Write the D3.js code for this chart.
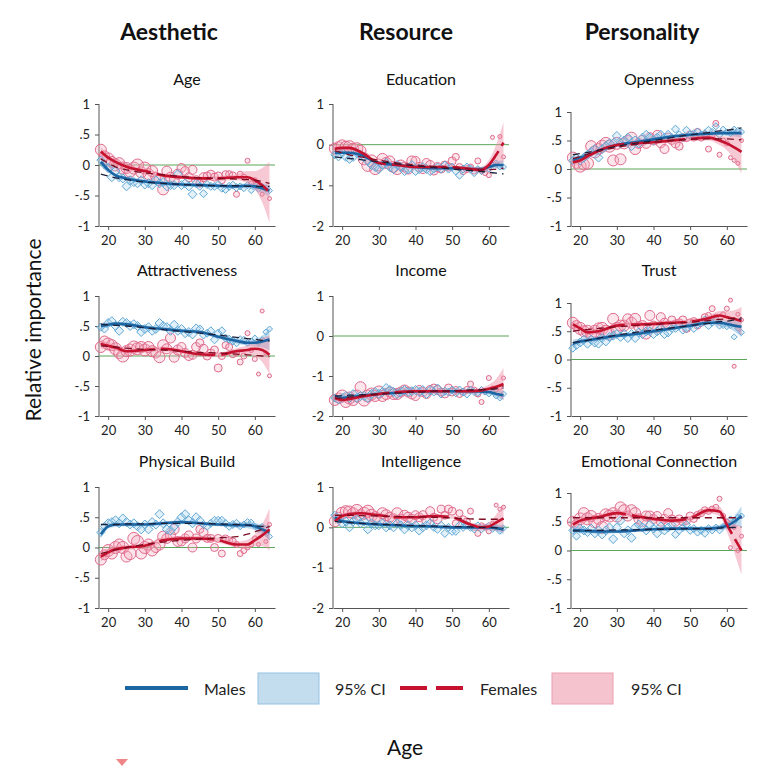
<!DOCTYPE html>
<html><head><meta charset="utf-8">
<script src="https://cdn.jsdelivr.net/npm/d3@7"></script>
<style>body{margin:0;background:#fff}svg{font-family:Lato,"Open Sans",sans-serif}</style>
</head><body><svg id="c" width="768" height="768"></svg>
<script>
// ---------- shared axes data ----------
const ages = d3.range(18, 65); // 18..64
const fitAges = [18,20,22,25,30,35,40,45,50,55,58,60,62,64];
const xTicks = [20,30,40,50,60];
const yTicksA = [-1,-0.5,0,0.5,1];
const yTickLabelsA = ["-1","-.5","0",".5","1"];
const yTicksB = [-2,-1,0,1];
const yTickLabelsB = ["-2","-1","0","1"];
const columnTitles = ["Aesthetic","Resource","Personality"];
const panelTitles = ["Age","Education","Openness","Attractiveness","Income","Trust","Physical Build","Intelligence","Emotional Connection"];
const femaleRadius = [5.5,5,6,5.5,6,5.5,6,5.5,6,6,6,5.5,6,5.5,5.5,5,5.5,5.5,5,5,5,5,4.5,4.5,4.5,4.5,4.5,4,4.5,4,4,4,4,3.5,3.5,3.5,3.5,3,3,3,2.5,2.5,2.5,2,2,2,2];
const maleRadius = [4,4,4.5,4.5,4.5,4.5,4.5,4.5,4.5,4.5,4.5,4.5,4.5,4.5,4.5,4.5,4.5,4.5,4.5,4.5,4.5,4.5,4.5,4.5,4.5,4.5,4.5,4,4,4,4,4,4,4,4,4,4,4,3.5,3.5,3.5,3,3,3,3,3,3];

// ---------- Age (Aesthetic) ----------
const ageM = [0.08,0,-0.05,-0.2,-0.1,-0.2,-0.22,-0.35,-0.25,-0.28,-0.3,-0.25,-0.32,-0.3,-0.33,-0.25,-0.3,-0.28,-0.35,-0.33,-0.33,-0.15,-0.33,-0.3,-0.35,-0.48,-0.3,-0.35,-0.47,-0.32,-0.35,-0.35,-0.32,-0.38,-0.4,-0.35,-0.33,-0.37,-0.35,-0.38,-0.33,-0.42,-0.35,-0.4,-0.35,-0.38,-0.42];
const ageF = [0.25,0.15,0.1,0.05,0,0.03,-0.05,-0.05,-0.1,-0.05,0,-0.12,-0.05,-0.15,-0.1,-0.2,-0.25,-0.4,-0.1,-0.2,-0.25,-0.15,-0.05,-0.1,-0.2,-0.08,-0.25,-0.3,-0.2,-0.18,-0.15,-0.2,-0.18,-0.25,-0.15,-0.15,-0.17,-0.48,-0.15,-0.2,0.07,-0.3,-0.25,-0.35,-0.48,-0.4,-0.55];
const ageMFit = [0.05,-0.08,-0.17,-0.22,-0.27,-0.3,-0.32,-0.33,-0.34,-0.35,-0.34,-0.35,-0.38,-0.42];
const ageMCI = [0.06,0.04,0.03,0.03,0.03,0.03,0.03,0.03,0.03,0.03,0.04,0.05,0.07,0.1];
const ageFFit = [0.22,0.12,0.05,-0.03,-0.1,-0.17,-0.2,-0.22,-0.22,-0.2,-0.2,-0.25,-0.33,-0.45];
const ageFCI = [0.08,0.05,0.04,0.04,0.03,0.03,0.03,0.03,0.04,0.05,0.1,0.15,0.28,0.5];
const ageMPar = [-0.15,-0.18,-0.21,-0.24,-0.28,-0.3,-0.32,-0.33,-0.34,-0.34,-0.35,-0.35,-0.35,-0.35];
const ageFPar = [0.1,0.03,-0.03,-0.08,-0.13,-0.16,-0.19,-0.21,-0.22,-0.23,-0.24,-0.25,-0.27,-0.3];

// ---------- Education (Resource) ----------
const eduM = [-0.25,-0.3,-0.2,-0.3,-0.35,-0.3,-0.2,-0.25,-0.3,-0.4,-0.5,-0.55,-0.6,-0.5,-0.45,-0.55,-0.6,-0.5,-0.55,-0.65,-0.6,-0.5,-0.65,-0.6,-0.55,-0.6,-0.65,-0.6,-0.55,-0.6,-0.5,-0.6,-0.55,-0.65,-0.75,-0.6,-0.55,-0.6,-0.7,-0.6,-0.65,-0.6,-0.6,-0.5,-0.45,-0.55,-0.55];
const eduF = [-0.1,-0.05,-0.03,-0.05,-0.05,-0.1,-0.1,-0.15,-0.35,-0.51,-0.4,-0.6,-0.5,-0.35,-0.45,-0.4,-0.55,-0.6,-0.5,-0.55,-0.6,-0.4,-0.4,-0.55,-0.6,-0.45,-0.5,-0.65,-0.55,-0.6,-0.5,-0.55,-0.4,-0.3,-0.55,-0.65,-0.6,-0.55,-0.65,-0.4,-0.65,-0.7,-0.75,0.18,-0.5,0.2,-0.3];
const eduMFit = [-0.2,-0.2,-0.2,-0.25,-0.45,-0.5,-0.55,-0.58,-0.58,-0.6,-0.6,-0.55,-0.5,-0.5];
const eduMCI = [0.06,0.04,0.04,0.04,0.04,0.03,0.03,0.03,0.03,0.04,0.05,0.06,0.08,0.12];
const eduFFit = [-0.1,-0.08,-0.08,-0.18,-0.45,-0.5,-0.55,-0.55,-0.55,-0.6,-0.62,-0.5,-0.25,0.05];
const eduFCI = [0.08,0.05,0.05,0.05,0.04,0.04,0.04,0.04,0.04,0.05,0.08,0.12,0.25,0.5];
const eduMPar = [-0.3,-0.32,-0.34,-0.37,-0.42,-0.47,-0.52,-0.56,-0.6,-0.64,-0.66,-0.68,-0.7,-0.72];
const eduFPar = [-0.15,-0.2,-0.25,-0.3,-0.38,-0.45,-0.5,-0.54,-0.57,-0.6,-0.62,-0.62,-0.6,-0.58];

// ---------- Openness (Personality) ----------
const opeM = [0.15,0.2,0.15,0.2,0.25,0.3,0.35,0.2,0.35,0.4,0.45,0.45,0.58,0.45,0.5,0.55,0.4,0.5,0.45,0.55,0.6,0.55,0.5,0.55,0.6,0.55,0.6,0.55,0.7,0.6,0.55,0.68,0.6,0.62,0.65,0.6,0.62,0.68,0.65,0.75,0.6,0.7,0.65,0.62,0.7,0.68,0.65];
const opeF = [0.2,0.1,0.05,0.08,0.1,0.4,0.3,0.35,0.4,0.45,0.4,0.15,0.45,0.17,0.45,0.5,0.55,0.35,0.45,0.5,0.45,0.55,0.5,0.6,0.45,0.35,0.55,0.5,0.45,0.4,0.55,0.55,0.6,0.55,0.65,0.55,0.6,0.35,0.6,0.8,0.25,0.5,0.45,0.2,0.15,0.1,0.5];
const opeMFit = [0.15,0.2,0.24,0.32,0.42,0.47,0.52,0.57,0.6,0.62,0.63,0.63,0.63,0.63];
const opeMCI = [0.06,0.04,0.04,0.03,0.03,0.03,0.03,0.03,0.03,0.03,0.04,0.05,0.06,0.08];
const opeFFit = [0.12,0.15,0.22,0.32,0.42,0.45,0.47,0.5,0.53,0.55,0.5,0.45,0.38,0.3];
const opeFCI = [0.08,0.05,0.04,0.04,0.03,0.03,0.03,0.04,0.04,0.05,0.08,0.12,0.22,0.38];
const opeMPar = [0.25,0.27,0.29,0.33,0.4,0.45,0.5,0.55,0.6,0.64,0.67,0.68,0.7,0.72];
const opeFPar = [0.18,0.22,0.26,0.31,0.38,0.43,0.47,0.5,0.52,0.53,0.53,0.53,0.52,0.51];

// ---------- Attractiveness ----------
const attM = [0.48,0.45,0.55,0.58,0.5,0.42,0.57,0.55,0.5,0.53,0.5,0.4,0.45,0.48,0.42,0.45,0.55,0.5,0.48,0.42,0.52,0.42,0.45,0.38,0.4,0.36,0.46,0.45,0.35,0.38,0.42,0.27,0.38,0.42,0.3,0.28,0.25,0.22,0.28,0.27,0.22,0.25,0.3,0.22,0.27,0.4,0.45];
const attF = [0.15,0.25,0.2,0.18,0.12,0.05,0,0.08,0.1,0.15,0.12,0.15,0.1,0.15,0.08,0.05,-0.02,0.18,0.12,0.3,-0.02,0.1,0.15,0.05,0,0.02,0.15,0.22,0.12,0,0.05,0.1,-0.2,0,0.18,0.15,0.03,0.05,-0.1,0,0.38,0.1,-0.05,-0.3,0.75,0.05,-0.33];
const attMFit = [0.5,0.52,0.54,0.53,0.48,0.45,0.42,0.4,0.32,0.25,0.22,0.22,0.24,0.28];
const attMCI = [0.05,0.04,0.03,0.03,0.03,0.03,0.03,0.03,0.03,0.04,0.05,0.06,0.1,0.18];
const attFFit = [0.2,0.17,0.14,0.08,0.1,0.12,0.08,0.03,0.02,0.08,0.1,0.12,0.1,0.02];
const attFCI = [0.08,0.05,0.05,0.04,0.04,0.04,0.04,0.04,0.04,0.05,0.08,0.12,0.2,0.32];
const attMPar = [0.53,0.52,0.51,0.5,0.47,0.44,0.41,0.38,0.35,0.31,0.29,0.28,0.26,0.25];
const attFPar = [0.17,0.16,0.15,0.13,0.11,0.1,0.08,0.06,0.05,0.03,0.02,0.01,0,-0.01];

// ---------- Income ----------
const incM = [-1.55,-1.6,-1.55,-1.5,-1.55,-1.45,-1.55,-1.5,-1.5,-1.55,-1.45,-1.4,-1.45,-1.4,-1.3,-1.35,-1.4,-1.45,-1.4,-1.35,-1.4,-1.38,-1.35,-1.4,-1.35,-1.45,-1.35,-1.4,-1.3,-1.45,-1.38,-1.4,-1.35,-1.42,-1.35,-1.4,-1.45,-1.35,-1.4,-1.42,-1.35,-1.4,-1.45,-1.4,-1.5,-1.55,-1.45];
const incF = [-1.6,-1.55,-1.5,-1.65,-1.55,-1.6,-1.5,-1.28,-1.6,-1.5,-1.45,-1.5,-1.4,-1.5,-1.45,-1.4,-1.45,-1.45,-1.4,-1.35,-1.4,-1.45,-1.5,-1.35,-1.4,-1.45,-1.35,-1.3,-1.35,-1.4,-1.45,-1.3,-1.4,-1.35,-1.45,-1.4,-1.35,-1.2,-1.35,-1.45,-1.65,-1.4,-1.05,-1.3,-1.35,-1.3,-1.05];
const incMFit = [-1.52,-1.55,-1.53,-1.5,-1.45,-1.42,-1.38,-1.38,-1.38,-1.38,-1.39,-1.4,-1.45,-1.48];
const incMCI = [0.06,0.05,0.04,0.04,0.03,0.03,0.03,0.03,0.03,0.04,0.05,0.06,0.08,0.12];
const incFFit = [-1.55,-1.6,-1.58,-1.52,-1.45,-1.4,-1.38,-1.38,-1.38,-1.38,-1.36,-1.32,-1.27,-1.2];
const incFCI = [0.08,0.06,0.05,0.05,0.04,0.04,0.04,0.04,0.04,0.05,0.07,0.1,0.2,0.4];
const incMPar = [-1.5,-1.49,-1.48,-1.47,-1.45,-1.42,-1.4,-1.38,-1.37,-1.35,-1.34,-1.33,-1.32,-1.3];
const incFPar = [-1.56,-1.55,-1.53,-1.5,-1.46,-1.42,-1.4,-1.38,-1.37,-1.36,-1.35,-1.33,-1.3,-1.25];

// ---------- Trust ----------
const truM = [0.2,0.25,0.3,0.35,0.28,0.35,0.3,0.28,0.38,0.32,0.4,0.42,0.45,0.4,0.45,0.38,0.45,0.38,0.48,0.45,0.5,0.5,0.45,0.5,0.55,0.45,0.48,0.55,0.55,0.6,0.52,0.55,0.6,0.55,0.62,0.65,0.7,0.6,0.65,0.7,0.6,0.6,0.58,0.6,0.4,0.55,0.48];
const truF = [0.65,0.6,0.55,0.5,0.5,0.45,0.5,0.55,0.55,0.5,0.45,0.72,0.55,0.6,0.6,0.72,0.65,0.72,0.58,0.6,0.45,0.78,0.6,0.55,0.75,0.65,0.6,0.7,0.62,0.65,0.7,0.55,0.65,0.68,0.6,0.65,0.75,0.78,0.9,0.75,0.65,0.8,0.9,1.05,-0.12,0.8,0.7];
const truMFit = [0.28,0.32,0.34,0.37,0.42,0.45,0.5,0.55,0.6,0.65,0.65,0.63,0.6,0.58];
const truMCI = [0.07,0.05,0.04,0.04,0.03,0.03,0.03,0.03,0.03,0.04,0.05,0.06,0.1,0.18];
const truFFit = [0.62,0.55,0.48,0.5,0.6,0.62,0.63,0.65,0.67,0.73,0.78,0.75,0.72,0.68];
const truFCI = [0.08,0.05,0.05,0.04,0.04,0.04,0.04,0.04,0.04,0.05,0.08,0.1,0.15,0.25];
const truMPar = [0.3,0.32,0.34,0.38,0.43,0.48,0.52,0.56,0.6,0.64,0.67,0.68,0.7,0.72];
const truFPar = [0.5,0.52,0.53,0.55,0.58,0.6,0.62,0.64,0.66,0.69,0.71,0.72,0.73,0.74];

// ---------- Physical Build ----------
const phyM = [0.25,0.35,0.4,0.42,0.45,0.4,0.48,0.42,0.38,0.4,0.35,0.3,0.38,0.3,0.42,0.38,0.55,0.4,0.3,0.28,0.35,0.42,0.5,0.55,0.45,0.4,0.5,0.45,0.38,0.35,0.4,0.45,0.45,0.45,0.4,0.35,0.38,0.4,0.35,0.38,0.42,0.42,0.35,0.3,0.35,0.25,0.18];
const phyF = [-0.2,-0.12,-0.05,-0.1,0,0.05,0,-0.15,-0.1,0.15,0.1,-0.1,0,0.05,-0.05,0,0.05,0.18,0.15,0.2,0.3,0.1,0.1,0.15,0.2,0,0.15,0.3,0.25,0.15,0.15,0,0.15,-0.1,0.15,0.12,0.1,0.05,-0.1,-0.05,0,0.05,0.15,0.05,0.3,0.1,0.38];
const phyMFit = [0.22,0.35,0.38,0.38,0.38,0.4,0.42,0.4,0.38,0.37,0.37,0.35,0.3,0.25];
const phyMCI = [0.07,0.04,0.04,0.03,0.03,0.03,0.03,0.03,0.03,0.04,0.05,0.06,0.08,0.12];
const phyFFit = [-0.15,-0.08,-0.03,0,0.03,0.12,0.15,0.15,0.12,0.05,0.05,0.12,0.2,0.3];
const phyFCI = [0.08,0.06,0.05,0.04,0.04,0.04,0.04,0.04,0.04,0.05,0.08,0.1,0.18,0.35];
const phyMPar = [0.38,0.38,0.38,0.39,0.39,0.4,0.4,0.4,0.39,0.38,0.37,0.36,0.35,0.34];
const phyFPar = [-0.1,-0.07,-0.04,0,0.05,0.09,0.12,0.14,0.16,0.18,0.22,0.26,0.3,0.35];

// ---------- Intelligence ----------
const intM = [0.3,0.2,0.1,0.15,0,0.15,0.2,0.1,0.15,-0.05,0.1,0.05,0.05,0.1,0,0.05,0,0.1,0.05,-0.05,0.05,0,0.05,-0.08,0,0.05,0.1,0,-0.05,0.05,-0.15,0,-0.1,-0.1,0.05,0,0.05,0,-0.05,0.05,-0.05,0,0.05,-0.05,0,-0.1,-0.02];
const intF = [0.15,0.25,0.35,0.4,0.38,0.35,0.42,0.3,0.35,0.4,0.3,0.25,0.2,0.35,0.3,0.25,0.2,0.35,0.2,0.3,0.25,0.2,0.3,0.25,0.3,0.15,0.4,0.25,0.2,0.45,0.3,0.45,0.4,0.1,0.35,0.2,0.15,0.4,0,-0.15,0.05,0,-0.1,0.1,0.55,0.45,0.5];
const intMFit = [0.25,0.15,0.13,0.1,0.07,0.05,0.03,0.02,0,0,0,0,-0.02,-0.05];
const intMCI = [0.08,0.05,0.04,0.04,0.03,0.03,0.03,0.03,0.03,0.04,0.05,0.06,0.08,0.12];
const intFFit = [0.15,0.28,0.33,0.35,0.3,0.25,0.25,0.28,0.25,0.07,0,0.02,0.12,0.22];
const intFCI = [0.08,0.06,0.05,0.05,0.04,0.04,0.04,0.04,0.04,0.05,0.08,0.1,0.2,0.35];
const intMPar = [0.15,0.13,0.12,0.1,0.08,0.06,0.04,0.03,0.02,0.01,0,0,-0.01,-0.02];
const intFPar = [0.3,0.3,0.3,0.29,0.28,0.27,0.26,0.25,0.23,0.21,0.2,0.2,0.2,0.2];

// ---------- Emotional Connection ----------
const emoM = [0.35,0.25,0.38,0.35,0.32,0.38,0.3,0.35,0.28,0.35,0.4,0.2,0.4,0.52,0.3,0.35,0.22,0.4,0.45,0.4,0.35,0.45,0.38,0.3,0.42,0.35,0.4,0.45,0.28,0.35,0.4,0.45,0.35,0.38,0.32,0.35,0.3,0.38,0.35,0.4,0.35,0.42,0.45,0.55,0.5,0.58,0.6];
const emoF = [0.5,0.45,0.55,0.65,0.55,0.6,0.5,0.55,0.4,0.62,0.6,0.65,0.6,0.75,0.7,0.6,0.7,0.65,0.55,0.5,0.6,0.6,0.55,0.6,0.5,0.55,0.65,0.55,0.5,0.55,0.5,0.52,0.6,0.55,0.62,0.65,0.7,0.68,0.72,0.75,0.9,0.6,0.5,0.05,0.4,0,0.25];
const emoMFit = [0.35,0.35,0.34,0.33,0.33,0.35,0.37,0.38,0.38,0.38,0.4,0.43,0.5,0.6];
const emoMCI = [0.07,0.05,0.04,0.04,0.03,0.03,0.03,0.03,0.03,0.04,0.05,0.06,0.1,0.17];
const emoFFit = [0.45,0.52,0.55,0.58,0.65,0.6,0.55,0.52,0.56,0.7,0.68,0.45,0.22,0];
const emoFCI = [0.08,0.05,0.05,0.04,0.04,0.04,0.04,0.04,0.04,0.05,0.08,0.12,0.25,0.42];
const emoMPar = [0.34,0.34,0.35,0.35,0.36,0.36,0.37,0.37,0.38,0.38,0.39,0.4,0.4,0.41];
const emoFPar = [0.57,0.57,0.57,0.57,0.57,0.57,0.57,0.57,0.57,0.57,0.57,0.57,0.57,0.57];

// ---------- layout ----------
const colX = [[99,275],[333,509],[571,747]];
const rowBottom = [226,416,608];
const rowTopAB = [104,296,487];   // columns 1-2
const rowTopC = [112,303,493];    // column 3
const subtitleY = [78,269,460];

const panels = [
  {m:ageM,f:ageF,mFit:ageMFit,mCI:ageMCI,fFit:ageFFit,fCI:ageFCI,mPar:ageMPar,fPar:ageFPar},
  {m:eduM,f:eduF,mFit:eduMFit,mCI:eduMCI,fFit:eduFFit,fCI:eduFCI,mPar:eduMPar,fPar:eduFPar},
  {m:opeM,f:opeF,mFit:opeMFit,mCI:opeMCI,fFit:opeFFit,fCI:opeFCI,mPar:opeMPar,fPar:opeFPar},
  {m:attM,f:attF,mFit:attMFit,mCI:attMCI,fFit:attFFit,fCI:attFCI,mPar:attMPar,fPar:attFPar},
  {m:incM,f:incF,mFit:incMFit,mCI:incMCI,fFit:incFFit,fCI:incFCI,mPar:incMPar,fPar:incFPar},
  {m:truM,f:truF,mFit:truMFit,mCI:truMCI,fFit:truFFit,fCI:truFCI,mPar:truMPar,fPar:truFPar},
  {m:phyM,f:phyF,mFit:phyMFit,mCI:phyMCI,fFit:phyFFit,fCI:phyFCI,mPar:phyMPar,fPar:phyFPar},
  {m:intM,f:intF,mFit:intMFit,mCI:intMCI,fFit:intFFit,fCI:intFCI,mPar:intMPar,fPar:intFPar},
  {m:emoM,f:emoF,mFit:emoMFit,mCI:emoMCI,fFit:emoFFit,fCI:emoFCI,mPar:emoMPar,fPar:emoFPar}
];

const C = {
  blueLine:"#1c65a3", blueBand:"rgba(110,172,218,0.45)", blueStroke:"#5fa8d6", blueFill:"rgba(160,205,235,0.3)",
  redLine:"#c4122f", redBand:"rgba(238,135,160,0.45)", redStroke:"#e06b8c", redFill:"rgba(245,170,190,0.3)",
  green:"#5aa65a", axis:"#555"
};

const svg = d3.select("#c");
svg.append("rect").attr("width",768).attr("height",768).attr("fill","#fff");

// column titles
const titleX = [169,406,642];
columnTitles.forEach((t,i)=>{
  svg.append("text").attr("x",titleX[i]).attr("y",40).attr("text-anchor","middle")
    .attr("font-size",23).attr("font-weight","bold").attr("fill","#111").text(t);
});

panels.forEach((p,i)=>{
  const row = Math.floor(i/3), col = i%3;
  const isB = col===1;
  const yDom = isB ? [-2,1] : [-1,1];
  const top = col===2 ? rowTopC[row] : rowTopAB[row];
  const x = d3.scaleLinear().domain([17.5,65.5]).range(colX[col]);
  const y = d3.scaleLinear().domain(yDom).range([rowBottom[row], top]);
  const g = svg.append("g");

  // subtitle
  g.append("text").attr("x",(colX[col][0]+colX[col][1])/2).attr("y",subtitleY[row])
    .attr("text-anchor","middle").attr("dominant-baseline","central")
    .attr("font-size",16).attr("fill","#111").text(panelTitles[i]);

  // axes
  const yT = isB ? yTicksB : yTicksA, yL = isB ? yTickLabelsB : yTickLabelsA;
  const yAxis = d3.axisLeft(y).tickValues(yT).tickFormat((d,k)=>yL[k]).tickSize(4).tickSizeOuter(0).tickPadding(5);
  const xAxis = d3.axisBottom(x).tickValues(xTicks).tickSize(4).tickSizeOuter(0).tickPadding(6);
  const ya = g.append("g").attr("transform",`translate(${colX[col][0]},0)`).call(yAxis);
  const xa = g.append("g").attr("transform",`translate(0,${rowBottom[row]})`).call(xAxis);
  ya.select(".domain").attr("d",`M0,${top}V${rowBottom[row]}`);
  [ya,xa].forEach(a=>{
    a.selectAll("path,line").attr("stroke",C.axis);
    a.selectAll("text").attr("font-size",13).attr("fill","#222").attr("font-family","Lato, sans-serif");
  });

  // zero line
  g.append("line").attr("x1",colX[col][0]).attr("x2",colX[col][1]).attr("y1",y(0)).attr("y2",y(0))
    .attr("stroke",C.green).attr("stroke-width",1);

  // scatter - females
  g.append("g").selectAll("circle").data(ages).join("circle")
    .attr("cx",a=>x(a)).attr("cy",(a,k)=>y(p.f[k])).attr("r",(a,k)=>femaleRadius[k])
    .attr("fill",C.redFill).attr("stroke",C.redStroke).attr("stroke-width",1);
  // scatter - males (diamonds)
  g.append("g").selectAll("path").data(ages).join("path")
    .attr("d",(a,k)=>{const cx=x(a),cy=y(p.m[k]),r=maleRadius[k];return `M${cx},${cy-r}L${cx+r},${cy}L${cx},${cy+r}L${cx-r},${cy}Z`;})
    .attr("fill",C.blueFill).attr("stroke",C.blueStroke).attr("stroke-width",1);

  const curve = d3.curveMonotoneX;
  const band = (fit,ci)=>d3.area().curve(curve).x((d,k)=>x(fitAges[k])).y0((d,k)=>y(fit[k]-ci[k])).y1((d,k)=>y(fit[k]+ci[k]))(fitAges);
  const line = (arr)=>d3.line().curve(curve).x((d,k)=>x(fitAges[k])).y((d,k)=>y(arr[k]))(fitAges);

  g.append("path").attr("d",band(p.mFit,p.mCI)).attr("fill",C.blueBand);
  g.append("path").attr("d",band(p.fFit,p.fCI)).attr("fill",C.redBand);
  g.append("path").attr("d",line(p.mFit)).attr("fill","none").attr("stroke",C.blueLine).attr("stroke-width",2.6);
  g.append("path").attr("d",line(p.fFit)).attr("fill","none").attr("stroke",C.redLine).attr("stroke-width",2.6).attr("stroke-dasharray","55,6");
  g.append("path").attr("d",line(p.mPar)).attr("fill","none").attr("stroke","#1a1f3a").attr("stroke-width",1.3).attr("stroke-dasharray","7,5");
  g.append("path").attr("d",line(p.fPar)).attr("fill","none").attr("stroke","#7d0c22").attr("stroke-width",1.3).attr("stroke-dasharray","7,5");
});

// y-axis label
svg.append("text").attr("transform","translate(32,330) rotate(-90)").attr("text-anchor","middle")
  .attr("dominant-baseline","central").attr("font-size",21).attr("fill","#111").text("Relative importance");

// legend
const lg = svg.append("g").attr("font-size",16).attr("fill","#222");
const ly = 688;
lg.append("line").attr("x1",125).attr("x2",188).attr("y1",ly).attr("y2",ly).attr("stroke",C.blueLine).attr("stroke-width",4);
lg.append("text").attr("x",204).attr("y",ly).attr("dominant-baseline","central").text("Males");
lg.append("rect").attr("x",258).attr("y",673).attr("width",61).attr("height",31).attr("fill","#c3dcee").attr("stroke","#94c1e2");
lg.append("text").attr("x",335).attr("y",ly).attr("dominant-baseline","central").text("95% CI");
lg.append("line").attr("x1",400).attr("x2",463).attr("y1",ly).attr("y2",ly).attr("stroke",C.redLine).attr("stroke-width",4).attr("stroke-dasharray","27,9");
lg.append("text").attr("x",480).attr("y",ly).attr("dominant-baseline","central").text("Females");
lg.append("rect").attr("x",552).attr("y",673).attr("width",61).attr("height",31).attr("fill","#f5c3cd").attr("stroke","#eba0b0");
lg.append("text").attr("x",631).attr("y",ly).attr("dominant-baseline","central").text("95% CI");

// x-axis label
svg.append("text").attr("x",405).attr("y",746).attr("text-anchor","middle").attr("dominant-baseline","central")
  .attr("font-size",21).attr("fill","#111").text("Age");
// small marker at bottom-left
svg.append("path").attr("d","M116,759L128,759L122,766Z").attr("fill","#f08585");
</script></body></html>
